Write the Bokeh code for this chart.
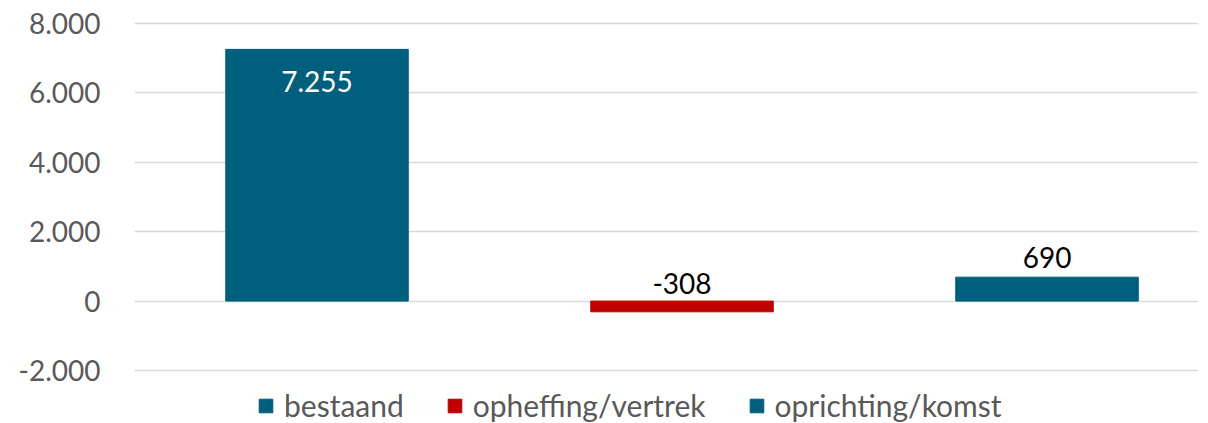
from bokeh.plotting import figure
from bokeh.models import Range1d, FixedTicker, Legend, LegendItem, ColumnDataSource
from bokeh.core.properties import value
from bokeh.embed import file_html
from bokeh.resources import INLINE

categories = ["bestaand", "opheffing/vertrek", "oprichting/komst"]
values = [7255, -308, 690]
labels = ["7.255", "-308", "690"]
colors = ["#005F7D", "#C00000", "#005F7D"]
y_ticks = [-2000, 0, 2000, 4000, 6000, 8000]
y_tick_labels = ["-2.000", "0", "2.000", "4.000", "6.000", "8.000"]

FONT = "Lato"
TXT = "#595959"

p = figure(width=1208, height=423, output_backend="svg", toolbar_location=None,
           x_range=Range1d(-0.5, 2.415), y_range=Range1d(-3527, 8058),
           min_border_left=134, min_border_right=10, min_border_top=21, min_border_bottom=0)
p.outline_line_color = None
p.xaxis.visible = False
p.xgrid.visible = False
p.ygrid.grid_line_color = "#D9D9D9"
p.ygrid.grid_line_width = 1.5
p.yaxis.ticker = FixedTicker(ticks=y_ticks)
p.yaxis.major_label_overrides = {t: s for t, s in zip(y_ticks, y_tick_labels)}
p.yaxis.axis_line_color = None
p.yaxis.major_tick_line_color = None
p.yaxis.minor_tick_line_color = None
p.yaxis.major_label_text_font = FONT
p.yaxis.major_label_text_font_size = "28px"
p.yaxis.major_label_text_color = TXT
p.yaxis.major_label_standoff = 28

items = []
for i, (c, v, col) in enumerate(zip(categories, values, colors)):
    src = ColumnDataSource(dict(x=[i], top=[v]))
    r = p.vbar(x="x", top="top", bottom=0, width=0.5, color=col, source=src)
    items.append(LegendItem(label=c, renderers=[r]))

# data labels
p.text(x=[0], y=[values[0]], text=[labels[0]], text_align="center", text_baseline="top",
       y_offset=22, text_font=value(FONT), text_font_size="28px", text_color="white")
p.text(x=[1], y=[0], text=[labels[1]], text_align="center", text_baseline="bottom",
       y_offset=-7, text_font=value(FONT), text_font_size="28px", text_color="black")
p.text(x=[2], y=[values[2]], text=[labels[2]], text_align="center", text_baseline="bottom",
       y_offset=-9, text_font=value(FONT), text_font_size="28px", text_color="black")

legend = Legend(items=items, orientation="horizontal", location=(123, 0),
                label_text_font=FONT, label_text_font_size="30px", label_text_color=TXT,
                glyph_width=17, glyph_height=17, label_standoff=10, spacing=42,
                padding=0, margin=0, border_line_color=None, background_fill_alpha=0)
p.add_layout(legend, "center")

open("out.html", "w").write(file_html(p, INLINE))
